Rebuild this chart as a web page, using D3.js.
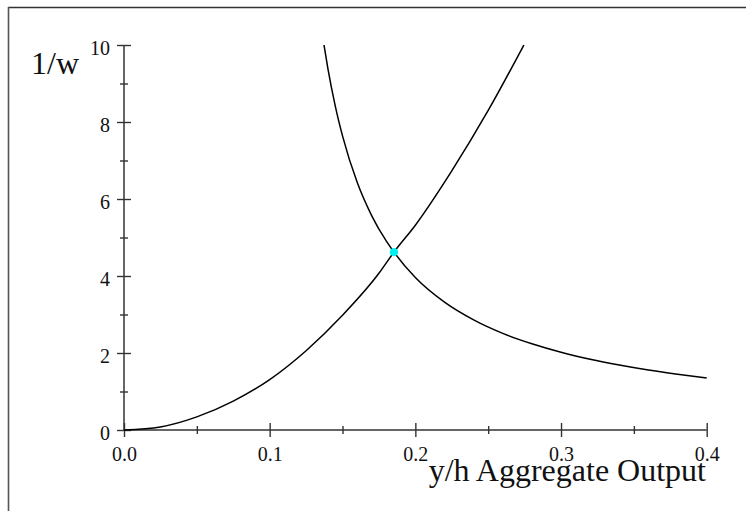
<!DOCTYPE html>
<html>
<head>
<meta charset="utf-8">
<script src="https://cdn.jsdelivr.net/npm/d3@7"></script>
<style>
  html, body { margin: 0; padding: 0; background: #fff; }
  svg { display: block; }
  text { font-family: "Liberation Serif", "Times New Roman", serif; fill: #111; }
</style>
</head>
<body>
<script>
// ---- data ----
const xTicks = [0, 0.1, 0.2, 0.3, 0.4];
const xTickLabels = ["0.0", "0.1", "0.2", "0.3", "0.4"];
const xMinor = [0.05, 0.15, 0.25, 0.35];
const yTicks = [0, 2, 4, 6, 8, 10];
const yTickLabels = ["0", "2", "4", "6", "8", "10"];
const yMinor = [1, 3, 5, 7, 9];

// rising curve (x = y/h, y = 1/w)
const risingX = [0, 0.025, 0.05, 0.075, 0.1, 0.125, 0.15, 0.175, 0.1853, 0.2, 0.225, 0.25, 0.2745];
const risingY = [0, 0.08, 0.34, 0.75, 1.31, 2.06, 2.98, 4.07, 4.62, 5.32, 6.73, 8.30, 10.0];

// falling curve
const fallingX = [0.1373, 0.14, 0.145, 0.15, 0.16, 0.17, 0.18, 0.1853, 0.2, 0.22, 0.24, 0.26, 0.28, 0.30, 0.32, 0.34, 0.36, 0.38, 0.40];
const fallingY = [10.0, 9.38, 8.42, 7.64, 6.44, 5.57, 4.91, 4.62, 3.96, 3.32, 2.86, 2.51, 2.24, 2.02, 1.84, 1.69, 1.56, 1.45, 1.35];

// equilibrium point
const eqX = [0.1853];
const eqY = [4.62];

const xLabel = "y/h Aggregate Output";
const yLabel = "1/w";

// ---- drawing ----
const W = 746, H = 511;
const svg = d3.select("body").append("svg").attr("width", W).attr("height", H);

// frame (top and left edges visible)
svg.append("line").attr("x1", 8).attr("x2", W).attr("y1", 7.5).attr("y2", 7.5)
  .attr("stroke", "#333").attr("stroke-width", 1.6);
svg.append("line").attr("x1", 8.5).attr("x2", 8.5).attr("y1", 7).attr("y2", H)
  .attr("stroke", "#555").attr("stroke-width", 1.6);

const x = d3.scaleLinear().domain([0, 0.4]).range([124, 706.7]);
const y = d3.scaleLinear().domain([0, 10]).range([430, 45]);

const axisColor = "#333";

// x axis major
const gx = svg.append("g").attr("transform", `translate(0,${y(0)})`)
  .call(d3.axisBottom(x).tickValues(xTicks).tickFormat((d, i) => xTickLabels[i]).tickSizeOuter(0));
gx.select(".domain").attr("stroke", axisColor).attr("stroke-width", 1.5).attr("d", `M${x(0)},0H${x(0.4)}`);
gx.selectAll(".tick line").attr("y1", -7).attr("y2", 7).attr("stroke", axisColor).attr("stroke-width", 1.4);
gx.selectAll(".tick text").attr("y", 0).attr("dy", null).attr("transform", "translate(0,31)")
  .style("font-size", "20px").style("font-family", "Liberation Serif").attr("fill", "#111");
// x minor
const gxm = svg.append("g").attr("transform", `translate(0,${y(0)})`)
  .call(d3.axisBottom(x).tickValues(xMinor).tickFormat(() => "").tickSizeOuter(0));
gxm.select(".domain").remove();
gxm.selectAll(".tick line").attr("y1", -4).attr("y2", 4).attr("stroke", axisColor).attr("stroke-width", 1.4);

// y axis major
const gy = svg.append("g").attr("transform", `translate(${x(0)},0)`)
  .call(d3.axisLeft(y).tickValues(yTicks).tickFormat((d, i) => yTickLabels[i]).tickSizeOuter(0));
gy.select(".domain").attr("stroke", axisColor).attr("stroke-width", 1.5).attr("d", `M0,${y(0)}V${y(10)}`);
gy.selectAll(".tick line").attr("x1", -7).attr("x2", 7).attr("stroke", axisColor).attr("stroke-width", 1.4);
gy.selectAll(".tick text").attr("x", -14).attr("dy", null).attr("y", 9.5)
  .style("font-size", "20px").style("font-family", "Liberation Serif").attr("fill", "#111");
// y minor
const gym = svg.append("g").attr("transform", `translate(${x(0)},0)`)
  .call(d3.axisLeft(y).tickValues(yMinor).tickFormat(() => "").tickSizeOuter(0));
gym.select(".domain").remove();
gym.selectAll(".tick line").attr("x1", -4).attr("x2", 4).attr("stroke", axisColor).attr("stroke-width", 1.4);

// curves
const line = d3.line().x(d => x(d[0])).y(d => y(d[1])).curve(d3.curveMonotoneX);
svg.append("path").datum(risingX.map((v, i) => [v, risingY[i]]))
  .attr("d", line).attr("fill", "none").attr("stroke", "#000").attr("stroke-width", 1.5);
svg.append("path").datum(fallingX.map((v, i) => [v, fallingY[i]]))
  .attr("d", line).attr("fill", "none").attr("stroke", "#000").attr("stroke-width", 1.5);

// equilibrium point
svg.selectAll("circle.eq").data(eqX.map((v, i) => [v, eqY[i]])).enter()
  .append("circle").attr("class", "eq")
  .attr("cx", d => x(d[0])).attr("cy", d => y(d[1])).attr("r", 4.2)
  .attr("fill", "#00f0f0");

// axis labels
svg.append("text").attr("x", 706).attr("y", 481).attr("text-anchor", "end")
  .style("font-size", "32px").text(xLabel);
svg.append("text").attr("x", 31).attr("y", 74).attr("text-anchor", "start")
  .style("font-size", "32px").text(yLabel);
</script>
</body>
</html>
